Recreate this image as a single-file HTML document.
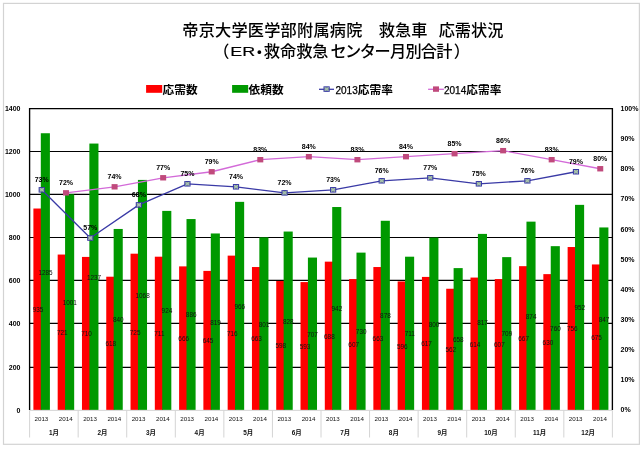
<!DOCTYPE html>
<html lang="ja"><head><meta charset="utf-8"><title>帝京大学医学部附属病院 救急車 応需状況</title>
<style>html,body{margin:0;padding:0;background:#fff}body{width:644px;height:450px;overflow:hidden}svg{display:block}</style></head>
<body>
<svg width="644" height="450" viewBox="0 0 644 450">
<rect x="0" y="0" width="644" height="450" fill="#ffffff"/>
<rect x="3.5" y="3.4" width="635.9" height="440.9" fill="#ffffff" stroke="#d3d3d3" stroke-width="1.2"/>
<g stroke="#000" stroke-width="1.2">
<line x1="29.6" y1="367.46" x2="612.39" y2="367.46"/>
<line x1="29.6" y1="323.46" x2="612.39" y2="323.46"/>
<line x1="29.6" y1="280.46" x2="612.39" y2="280.46"/>
<line x1="29.6" y1="237.5" x2="612.39" y2="237.5"/>
<line x1="29.6" y1="194.46" x2="612.39" y2="194.46"/>
<line x1="29.6" y1="151.5" x2="612.39" y2="151.5"/>
<line x1="29.6" y1="108.55" x2="612.39" y2="108.55"/>
</g>
<g stroke="#d4d4d4" stroke-width="1">
<line x1="29.6" y1="410.35" x2="612.39" y2="410.35"/>
<line x1="29.6" y1="410.35" x2="29.6" y2="437.5"/>
<line x1="78.17" y1="410.35" x2="78.17" y2="437.5"/>
<line x1="126.73" y1="410.35" x2="126.73" y2="437.5"/>
<line x1="175.3" y1="410.35" x2="175.3" y2="437.5"/>
<line x1="223.86" y1="410.35" x2="223.86" y2="437.5"/>
<line x1="272.43" y1="410.35" x2="272.43" y2="437.5"/>
<line x1="321" y1="410.35" x2="321" y2="437.5"/>
<line x1="369.56" y1="410.35" x2="369.56" y2="437.5"/>
<line x1="418.13" y1="410.35" x2="418.13" y2="437.5"/>
<line x1="466.69" y1="410.35" x2="466.69" y2="437.5"/>
<line x1="515.26" y1="410.35" x2="515.26" y2="437.5"/>
<line x1="563.83" y1="410.35" x2="563.83" y2="437.5"/>
<line x1="612.39" y1="410.35" x2="612.39" y2="437.5"/>
</g>
<g><rect x="33.4" y="208.52" width="8.2" height="201.33" fill="#ff0000"/><rect x="40.8" y="133.24" width="9.1" height="276.61" fill="#009900"/><rect x="57.68" y="254.55" width="8.2" height="155.3" fill="#ff0000"/><rect x="65.08" y="194.32" width="9.1" height="215.53" fill="#009900"/><rect x="81.97" y="256.92" width="8.2" height="152.93" fill="#ff0000"/><rect x="89.37" y="143.56" width="9.1" height="266.29" fill="#009900"/><rect x="106.25" y="276.71" width="8.2" height="133.14" fill="#ff0000"/><rect x="113.65" y="228.96" width="9.1" height="180.89" fill="#009900"/><rect x="130.53" y="253.69" width="8.2" height="156.16" fill="#ff0000"/><rect x="137.93" y="179.91" width="9.1" height="229.94" fill="#009900"/><rect x="154.82" y="256.7" width="8.2" height="153.15" fill="#ff0000"/><rect x="162.22" y="210.89" width="9.1" height="198.96" fill="#009900"/><rect x="179.1" y="266.38" width="8.2" height="143.47" fill="#ff0000"/><rect x="186.5" y="219.06" width="9.1" height="190.79" fill="#009900"/><rect x="203.38" y="270.9" width="8.2" height="138.95" fill="#ff0000"/><rect x="210.78" y="233.47" width="9.1" height="176.38" fill="#009900"/><rect x="227.66" y="255.63" width="8.2" height="154.22" fill="#ff0000"/><rect x="235.06" y="201.85" width="9.1" height="208" fill="#009900"/><rect x="251.95" y="267.03" width="8.2" height="142.82" fill="#ff0000"/><rect x="259.35" y="237.34" width="9.1" height="172.51" fill="#009900"/><rect x="276.23" y="281.01" width="8.2" height="128.84" fill="#ff0000"/><rect x="283.63" y="231.54" width="9.1" height="178.31" fill="#009900"/><rect x="300.51" y="282.09" width="8.2" height="127.76" fill="#ff0000"/><rect x="307.91" y="257.56" width="9.1" height="152.29" fill="#009900"/><rect x="324.8" y="261.65" width="8.2" height="148.2" fill="#ff0000"/><rect x="332.2" y="207.02" width="9.1" height="202.83" fill="#009900"/><rect x="349.08" y="279.07" width="8.2" height="130.78" fill="#ff0000"/><rect x="356.48" y="252.62" width="9.1" height="157.23" fill="#009900"/><rect x="373.36" y="267.03" width="8.2" height="142.82" fill="#ff0000"/><rect x="380.76" y="220.78" width="9.1" height="189.07" fill="#009900"/><rect x="397.65" y="281.44" width="8.2" height="128.41" fill="#ff0000"/><rect x="405.05" y="256.7" width="9.1" height="153.15" fill="#009900"/><rect x="421.93" y="276.92" width="8.2" height="132.93" fill="#ff0000"/><rect x="429.33" y="237.56" width="9.1" height="172.29" fill="#009900"/><rect x="446.21" y="288.75" width="8.2" height="121.1" fill="#ff0000"/><rect x="453.61" y="268.1" width="9.1" height="141.75" fill="#009900"/><rect x="470.49" y="277.57" width="8.2" height="132.28" fill="#ff0000"/><rect x="477.89" y="233.9" width="9.1" height="175.95" fill="#009900"/><rect x="494.78" y="279.07" width="8.2" height="130.78" fill="#ff0000"/><rect x="502.18" y="257.13" width="9.1" height="152.72" fill="#009900"/><rect x="519.06" y="266.17" width="8.2" height="143.68" fill="#ff0000"/><rect x="526.46" y="221.64" width="9.1" height="188.21" fill="#009900"/><rect x="543.34" y="274.13" width="8.2" height="135.72" fill="#ff0000"/><rect x="550.74" y="246.16" width="9.1" height="163.69" fill="#009900"/><rect x="567.63" y="247.02" width="8.2" height="162.83" fill="#ff0000"/><rect x="575.03" y="204.86" width="9.1" height="204.99" fill="#009900"/><rect x="591.91" y="264.45" width="8.2" height="145.4" fill="#ff0000"/><rect x="599.31" y="227.45" width="9.1" height="182.4" fill="#009900"/></g>
<g stroke="#000" stroke-width="1.35">
<line x1="29.6" y1="107.95" x2="29.6" y2="409.95"/>
<line x1="612.39" y1="107.95" x2="612.39" y2="409.95"/>
</g>
<g font-family="'Liberation Sans', sans-serif" font-size="6.4" text-anchor="middle" fill="#111"><text x="38" y="312.16">935</text><text x="45.5" y="274.52">1285</text><text x="62.28" y="335.18">721</text><text x="69.78" y="305.06">1001</text><text x="86.57" y="336.36">710</text><text x="94.07" y="279.68">1237</text><text x="110.85" y="346.25">618</text><text x="118.35" y="322.38">840</text><text x="135.13" y="334.75">725</text><text x="142.63" y="297.86">1068</text><text x="159.42" y="336.25">711</text><text x="166.92" y="313.34">924</text><text x="183.7" y="341.09">666</text><text x="191.2" y="317.43">886</text><text x="207.98" y="343.35">645</text><text x="215.48" y="324.64">819</text><text x="232.26" y="335.71">716</text><text x="239.76" y="308.83">966</text><text x="256.55" y="341.41">663</text><text x="264.05" y="326.57">801</text><text x="280.83" y="348.41">598</text><text x="288.33" y="323.67">828</text><text x="305.11" y="348.94">593</text><text x="312.61" y="336.68">707</text><text x="329.4" y="338.73">688</text><text x="336.9" y="311.41">942</text><text x="353.68" y="347.44">607</text><text x="361.18" y="334.21">730</text><text x="377.96" y="341.41">663</text><text x="385.46" y="318.29">878</text><text x="402.25" y="348.62">596</text><text x="409.75" y="336.25">711</text><text x="426.53" y="346.36">617</text><text x="434.03" y="326.68">800</text><text x="450.81" y="352.28">562</text><text x="458.31" y="341.95">658</text><text x="475.09" y="346.68">614</text><text x="482.59" y="324.85">817</text><text x="499.38" y="347.44">607</text><text x="506.88" y="336.47">709</text><text x="523.66" y="340.98">667</text><text x="531.16" y="318.72">874</text><text x="547.94" y="344.96">630</text><text x="555.44" y="330.98">760</text><text x="572.23" y="331.41">756</text><text x="579.73" y="310.33">952</text><text x="596.51" y="340.12">675</text><text x="604.01" y="321.63">847</text></g>
<polyline fill="none" stroke="#d36ad8" stroke-width="1.3" stroke-linejoin="round" points="66.02,192.84 114.59,186.81 163.16,177.78 211.72,171.75 260.29,159.7 308.85,156.69 357.42,159.7 405.99,156.69 454.55,153.68 503.12,150.67 551.68,159.7 600.25,168.74"/>
<polyline fill="none" stroke="#3a3aa6" stroke-width="1.3" stroke-linejoin="round" points="41.74,189.82 90.31,238.02 138.87,204.88 187.44,183.8 236.01,186.81 284.57,192.84 333.14,189.82 381.7,180.79 430.27,177.78 478.84,183.8 527.4,180.79 575.97,171.75"/>
<g><rect x="63.02" y="190.14" width="6" height="5.4" fill="#c04a7c"/><rect x="111.59" y="184.11" width="6" height="5.4" fill="#c04a7c"/><rect x="160.16" y="175.08" width="6" height="5.4" fill="#c04a7c"/><rect x="208.72" y="169.05" width="6" height="5.4" fill="#c04a7c"/><rect x="257.29" y="157" width="6" height="5.4" fill="#c04a7c"/><rect x="305.85" y="153.99" width="6" height="5.4" fill="#c04a7c"/><rect x="354.42" y="157" width="6" height="5.4" fill="#c04a7c"/><rect x="402.99" y="153.99" width="6" height="5.4" fill="#c04a7c"/><rect x="451.55" y="150.98" width="6" height="5.4" fill="#c04a7c"/><rect x="500.12" y="147.97" width="6" height="5.4" fill="#c04a7c"/><rect x="548.68" y="157" width="6" height="5.4" fill="#c04a7c"/><rect x="597.25" y="166.04" width="6" height="5.4" fill="#c04a7c"/></g>
<g><g transform="translate(41.74 189.82)"><rect x="-2.6" y="-2.25" width="5.2" height="4.5" fill="#8fa998" stroke="#3636a6" stroke-width="1"/><path d="M-2-1.7L2 1.7M2-1.7L-2 1.7" stroke="#b4ccba" stroke-width="0.8" fill="none"/></g><g transform="translate(90.31 238.02)"><rect x="-2.6" y="-2.25" width="5.2" height="4.5" fill="#8fa998" stroke="#3636a6" stroke-width="1"/><path d="M-2-1.7L2 1.7M2-1.7L-2 1.7" stroke="#b4ccba" stroke-width="0.8" fill="none"/></g><g transform="translate(138.87 204.88)"><rect x="-2.6" y="-2.25" width="5.2" height="4.5" fill="#8fa998" stroke="#3636a6" stroke-width="1"/><path d="M-2-1.7L2 1.7M2-1.7L-2 1.7" stroke="#b4ccba" stroke-width="0.8" fill="none"/></g><g transform="translate(187.44 183.8)"><rect x="-2.6" y="-2.25" width="5.2" height="4.5" fill="#8fa998" stroke="#3636a6" stroke-width="1"/><path d="M-2-1.7L2 1.7M2-1.7L-2 1.7" stroke="#b4ccba" stroke-width="0.8" fill="none"/></g><g transform="translate(236.01 186.81)"><rect x="-2.6" y="-2.25" width="5.2" height="4.5" fill="#8fa998" stroke="#3636a6" stroke-width="1"/><path d="M-2-1.7L2 1.7M2-1.7L-2 1.7" stroke="#b4ccba" stroke-width="0.8" fill="none"/></g><g transform="translate(284.57 192.84)"><rect x="-2.6" y="-2.25" width="5.2" height="4.5" fill="#8fa998" stroke="#3636a6" stroke-width="1"/><path d="M-2-1.7L2 1.7M2-1.7L-2 1.7" stroke="#b4ccba" stroke-width="0.8" fill="none"/></g><g transform="translate(333.14 189.82)"><rect x="-2.6" y="-2.25" width="5.2" height="4.5" fill="#8fa998" stroke="#3636a6" stroke-width="1"/><path d="M-2-1.7L2 1.7M2-1.7L-2 1.7" stroke="#b4ccba" stroke-width="0.8" fill="none"/></g><g transform="translate(381.7 180.79)"><rect x="-2.6" y="-2.25" width="5.2" height="4.5" fill="#8fa998" stroke="#3636a6" stroke-width="1"/><path d="M-2-1.7L2 1.7M2-1.7L-2 1.7" stroke="#b4ccba" stroke-width="0.8" fill="none"/></g><g transform="translate(430.27 177.78)"><rect x="-2.6" y="-2.25" width="5.2" height="4.5" fill="#8fa998" stroke="#3636a6" stroke-width="1"/><path d="M-2-1.7L2 1.7M2-1.7L-2 1.7" stroke="#b4ccba" stroke-width="0.8" fill="none"/></g><g transform="translate(478.84 183.8)"><rect x="-2.6" y="-2.25" width="5.2" height="4.5" fill="#8fa998" stroke="#3636a6" stroke-width="1"/><path d="M-2-1.7L2 1.7M2-1.7L-2 1.7" stroke="#b4ccba" stroke-width="0.8" fill="none"/></g><g transform="translate(527.4 180.79)"><rect x="-2.6" y="-2.25" width="5.2" height="4.5" fill="#8fa998" stroke="#3636a6" stroke-width="1"/><path d="M-2-1.7L2 1.7M2-1.7L-2 1.7" stroke="#b4ccba" stroke-width="0.8" fill="none"/></g><g transform="translate(575.97 171.75)"><rect x="-2.6" y="-2.25" width="5.2" height="4.5" fill="#8fa998" stroke="#3636a6" stroke-width="1"/><path d="M-2-1.7L2 1.7M2-1.7L-2 1.7" stroke="#b4ccba" stroke-width="0.8" fill="none"/></g></g>
<g font-family="'Liberation Sans', sans-serif" font-size="7" font-weight="bold" text-anchor="middle" fill="#000"><text x="41.74" y="181.72">73%</text><text x="90.31" y="229.92">57%</text><text x="138.87" y="196.78">68%</text><text x="187.44" y="175.7">75%</text><text x="236.01" y="178.71">74%</text><text x="284.57" y="184.74">72%</text><text x="333.14" y="181.72">73%</text><text x="381.7" y="172.69">76%</text><text x="430.27" y="169.68">77%</text><text x="478.84" y="175.7">75%</text><text x="527.4" y="172.69">76%</text><text x="575.97" y="163.65">79%</text><text x="66.02" y="184.74">72%</text><text x="114.59" y="178.71">74%</text><text x="163.16" y="169.68">77%</text><text x="211.72" y="163.65">79%</text><text x="260.29" y="151.6">83%</text><text x="308.85" y="148.59">84%</text><text x="357.42" y="151.6">83%</text><text x="405.99" y="148.59">84%</text><text x="454.55" y="145.58">85%</text><text x="503.12" y="142.57">86%</text><text x="551.68" y="151.6">83%</text><text x="600.25" y="160.64">80%</text></g>
<g font-family="'Liberation Sans', sans-serif" font-size="7" font-weight="bold" fill="#000"><text x="20.5" y="413.2" text-anchor="end">0</text><text x="20.5" y="370.26" text-anchor="end">200</text><text x="20.5" y="326.26" text-anchor="end">400</text><text x="20.5" y="283.26" text-anchor="end">600</text><text x="20.5" y="240.3" text-anchor="end">800</text><text x="20.5" y="197.26" text-anchor="end">1000</text><text x="20.5" y="154.3" text-anchor="end">1200</text><text x="20.5" y="111.35" text-anchor="end">1400</text><text x="620.5" y="412.15">0%</text><text x="620.5" y="382.05">10%</text><text x="620.5" y="351.95">20%</text><text x="620.5" y="321.85">30%</text><text x="620.5" y="291.75">40%</text><text x="620.5" y="261.65">50%</text><text x="620.5" y="231.55">60%</text><text x="620.5" y="201.45">70%</text><text x="620.5" y="171.35">80%</text><text x="620.5" y="141.25">90%</text><text x="620.5" y="111.15">100%</text></g>
<g font-family="'Liberation Sans', 'Noto Sans CJK JP', sans-serif" font-size="6.2" text-anchor="middle" fill="#111"><text x="41.44" y="421">2013</text><text x="65.72" y="421">2014</text><text x="53.88" y="434.8" font-size="6.4" font-weight="bold">1月</text><text x="90.01" y="421">2013</text><text x="114.29" y="421">2014</text><text x="102.45" y="434.8" font-size="6.4" font-weight="bold">2月</text><text x="138.57" y="421">2013</text><text x="162.86" y="421">2014</text><text x="151.02" y="434.8" font-size="6.4" font-weight="bold">3月</text><text x="187.14" y="421">2013</text><text x="211.42" y="421">2014</text><text x="199.58" y="434.8" font-size="6.4" font-weight="bold">4月</text><text x="235.71" y="421">2013</text><text x="259.99" y="421">2014</text><text x="248.15" y="434.8" font-size="6.4" font-weight="bold">5月</text><text x="284.27" y="421">2013</text><text x="308.55" y="421">2014</text><text x="296.71" y="434.8" font-size="6.4" font-weight="bold">6月</text><text x="332.84" y="421">2013</text><text x="357.12" y="421">2014</text><text x="345.28" y="434.8" font-size="6.4" font-weight="bold">7月</text><text x="381.4" y="421">2013</text><text x="405.69" y="421">2014</text><text x="393.85" y="434.8" font-size="6.4" font-weight="bold">8月</text><text x="429.97" y="421">2013</text><text x="454.25" y="421">2014</text><text x="442.41" y="434.8" font-size="6.4" font-weight="bold">9月</text><text x="478.54" y="421">2013</text><text x="502.82" y="421">2014</text><text x="490.98" y="434.8" font-size="6.4" font-weight="bold">10月</text><text x="527.1" y="421">2013</text><text x="551.38" y="421">2014</text><text x="539.54" y="434.8" font-size="6.4" font-weight="bold">11月</text><text x="575.67" y="421">2013</text><text x="599.95" y="421">2014</text><text x="588.11" y="434.8" font-size="6.4" font-weight="bold">12月</text></g>
<rect x="146.1" y="85" width="16.1" height="7.8" fill="#ff0000"/>
<rect x="232.1" y="85" width="16.1" height="7.8" fill="#009900"/>
<line x1="319" y1="89.3" x2="334" y2="89.3" stroke="#3a3aa6" stroke-width="1.3"/><g transform="translate(326.6 89.1)"><rect x="-2.6" y="-2.25" width="5.2" height="4.5" fill="#8fa998" stroke="#3636a6" stroke-width="1"/><path d="M-2-1.7L2 1.7M2-1.7L-2 1.7" stroke="#b4ccba" stroke-width="0.8" fill="none"/></g>
<line x1="428.1" y1="89.3" x2="443.9" y2="89.3" stroke="#d36ad8" stroke-width="1.3"/><rect x="433" y="86.4" width="6" height="5.4" fill="#c04a7c"/>
<g font-family="'Liberation Sans', 'Noto Sans CJK JP', sans-serif" font-size="11.7" font-weight="bold" fill="#000"><text x="162.6" y="93.8">応需数</text><text x="248.6" y="93.8">依頼数</text><text x="335.5" y="93.8" font-weight="normal"><tspan font-size="10" stroke="#000" stroke-width="0.25" >2013</tspan><tspan font-weight="bold">応需率</tspan></text><text x="444" y="93.8" font-weight="normal"><tspan font-size="10" stroke="#000" stroke-width="0.25">2014</tspan><tspan font-weight="bold">応需率</tspan></text></g>
<g font-family="'Liberation Sans', 'Noto Sans CJK JP', sans-serif" font-size="16.2" font-weight="500" fill="#000"><text x="182.3" y="35.6" letter-spacing="0.2">帝京大学医学部附属病院</text><text x="378.8" y="35.6">救急車</text><text x="438.7" y="35.6">応需状況</text><text x="213.2" y="57.2">（</text><text x="230.2" y="56.2" font-size="13.7" font-weight="normal" stroke="#000" stroke-width="0.15" textLength="24.9" lengthAdjust="spacingAndGlyphs">ER</text><text x="251.2" y="57.6">・</text><text x="263.8" y="57.2">救命救急</text><text x="330.4" y="57.2" letter-spacing="-1.5">センター</text><text x="390" y="57.2" letter-spacing="-0.8">月別合計</text><text x="453.8" y="57.2">）</text></g>
</svg>
</body></html>
